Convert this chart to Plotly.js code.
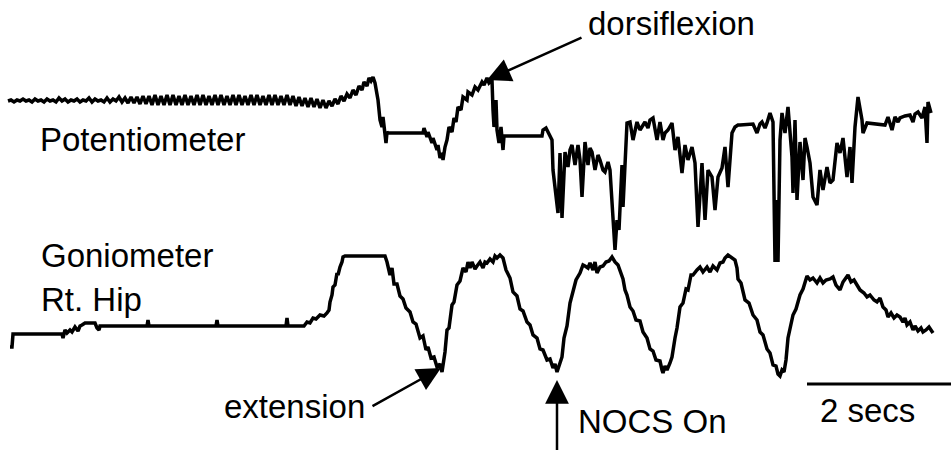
<!DOCTYPE html>
<html><head><meta charset="utf-8">
<script src="https://cdn.plot.ly/plotly-3.0.1.min.js"></script>
<style>html,body{margin:0;padding:0;background:#fff}#chart{width:951px;height:450px}</style>
</head><body><div id="chart"></div>
<script>
// Time axis in samples (72 samples = 1 s), signal values in display units (larger = lower)
const potX = [8,11,14,17,20,23,26,29,32,35,38,41,44,47,50,53,56,59,62,65,68,71,74,77,80,83,86,89,92,95,98,101,104,107,110,113,116,119,122,125,128,131,134,137,140,143,146,
149,152,155,158,161,164,167,170,173,176,179,182,185,188,191,194,197,200,203,206,209,212,215,218,221,224,227,230,233,236,239,242,245,248,251,254,257,260,263,266,269,272,275,278,281,284,287,290,293,296,299,302,305,308,311,314,317,320,323,326,329,
332,335,338,341,344,347,350,353,356,359,362,364,367,369,371,373,375,378,380,382,383,386,387,388,423,
424,427,428,432,433,437,438,440,442,443,445,447,449,452,454,456,458,461,463,467,468,472,475,478,482,484,487,489,492,493,494,496,497,499,501,503,504,542,
543,546,549,552,553,556,558,560,562,565,568,570,572,575,578,580,582,585,588,590,592,595,598,600,603,605,608,610,612,615,617,619,622,623,627,630,633,637,640,643,645,648,650,653,657,660,663,665,668,672,675,678,682,685,688,692,695,698,702,705,708,712,715,718,722,725,728,732,735,738,
740,753,757,760,762,765,767,770,773,775,777,778,780,782,785,788,792,793,795,797,800,803,805,807,810,813,817,820,823,827,830,833,837,840,843,847,850,852,855,858,860,862,863,867,885,888,892,895,898,900,905,910,913,915,918,922,925,927,928,931];
const potY = [101,100,102,100,101,99,101,100,102,99,101,100,102,99,101,100,102,98,101,99,102,100,101,99,102,100,101,98,102,99,101,100,102,98,102,99,101,97,102,98,103,97,103,97,104,96,104,
96,105,95,105,96,105,95,105,95,105,96,105,95,105,96,105,95,105,95,105,96,105,95,105,95,105,96,105,95,105,95,105,96,105,95,105,95,105,96,105,95,105,95,105,96,105,95,105,96,106,97,106,98,107,98,107,99,108,100,108,101,
106,99,104,96,101,94,98,90,95,86,90,82,86,78,81,77,83,100,120,127,117,143,132,133,133,
128,137,132,143,138,150,145,158,153,160,147,140,127,132,118,122,107,110,97,100,92,95,87,90,82,85,78,83,80,110,127,100,130,143,127,150,136,136,
130,128,134,140,170,200,213,153,218,152,167,150,145,165,145,160,197,142,165,148,152,170,155,160,170,172,162,170,207,250,220,230,165,207,123,122,140,122,130,125,122,128,120,118,140,122,140,133,130,123,150,137,173,145,160,147,163,227,163,220,170,177,210,177,168,147,187,133,127,125,
125,124,133,124,122,128,123,113,122,262,200,262,140,113,133,107,157,193,120,200,142,180,138,147,163,197,205,170,190,167,183,180,143,153,138,177,147,183,127,97,110,120,133,123,125,117,130,117,122,118,116,115,122,114,112,118,107,143,102,113];

const gonX = [10,12,13,62,63,65,67,70,72,75,78,80,82,85,95,97,99,100,147,148,149,216,217,218,286,287,288,304,307,310,313,316,320,324,327,329,330,332,333,335,337,338,340,342,343,345,385,
387,390,392,394,397,400,403,406,410,413,416,420,423,426,428,431,434,437,439,440,442,444,445,447,449,452,454,457,460,463,466,468,470,472,475,477,480,483,485,487,490,493,495,497,500,503,
506,510,513,517,520,523,527,530,533,537,540,543,547,550,553,555,557,559,562,564,567,570,573,576,580,583,585,588,590,593,595,597,600,603,606,609,612,615,618,621,623,625,627,630,633,636,640,643,647,650,653,656,660,662,663,665,667,670,672,675,677,680,683,686,688,691,693,697,700,703,707,710,713,717,720,723,725,728,731,735,737,738,741,745,749,753,757,760,763,767,770,773,776,778,780,782,784,786,788,790,793,796,800,803,807,810,813,817,820,823,826,830,833,836,840,843,846,848,851,854,857,860,864,867,870,874,877,880,883,886,888,891,894,897,900,903,905,907,910,913,915,918,921,923,926,929,931,933];
const gonY = [347,347,334,334,338,330,333,330,332,327,331,326,325,323,323,328,330,326,326,320,326,326,320,326,326,318,326,326,322,323,318,319,315,316,313,310,302,295,287,285,273,275,267,262,257,256,256,
262,275,268,284,284,296,299,308,312,322,324,338,336,350,347,358,357,367,364,364,372,358,352,330,328,305,302,285,281,268,272,262,268,262,269,266,262,268,262,263,259,262,256,258,255,258,
270,278,292,296,309,311,322,325,335,338,349,350,360,359,368,364,372,366,357,338,326,303,293,280,273,265,266,268,263,270,262,273,267,266,262,261,257,262,265,273,279,290,295,307,311,320,321,332,338,349,351,360,361,370,373,366,370,363,357,338,328,307,303,289,290,275,275,270,267,272,267,272,266,270,263,262,258,255,257,260,268,279,283,300,303,315,320,332,335,349,353,365,366,374,376,370,372,360,338,330,315,309,295,289,276,280,278,283,278,283,280,279,277,285,290,282,278,275,282,280,285,290,293,297,295,300,302,298,307,310,317,313,318,315,317,322,318,325,322,330,326,331,328,332,330,327,330,333];

const traceNames = ["Potentiometer", "Goniometer Rt. Hip"];
const labelText = ["Potentiometer", "Goniometer", "Rt. Hip", "dorsiflexion", "extension", "NOCS On", "2 secs"];
const scaleBarSecs = 2;
const samplesPerSec = 72;

const lineStyle = {color: '#000', width: 3.5};
const data = [
  {x: potX, y: potY, type: 'scatter', mode: 'lines', line: lineStyle, name: traceNames[0], hoverinfo: 'skip'},
  {x: gonX, y: gonY, type: 'scatter', mode: 'lines', line: lineStyle, name: traceNames[1], hoverinfo: 'skip'}
];

const font = {family: 'Liberation Sans, Arial, sans-serif', size: 33, color: '#000'};
function label(t, x, y, xa) {
  return {text: t, x: x, y: y, xref: 'x', yref: 'y', xanchor: xa, yanchor: 'middle', showarrow: false, font: font};
}
function arrow(x, y, ax, ay, size) {
  return {text: '', x: x, y: y, ax: ax, ay: ay, xref: 'x', yref: 'y', axref: 'x', ayref: 'y',
    showarrow: true, arrowhead: 2, arrowsize: size, arrowwidth: 2.5, arrowcolor: '#000', standoff: 0, startstandoff: 0};
}
const barStart = 807;
const layout = {
  width: 951, height: 450,
  margin: {l: 0, r: 0, t: 0, b: 0},
  paper_bgcolor: '#fff', plot_bgcolor: '#fff',
  showlegend: false,
  xaxis: {range: [0, 951], visible: false, fixedrange: true},
  yaxis: {range: [450, 0], visible: false, fixedrange: true},
  annotations: [
    label(labelText[0], 38, 139, 'left'),
    label(labelText[1], 39, 255, 'left'),
    label(labelText[2], 39, 299, 'left'),
    label(labelText[3], 586, 23, 'left'),
    label(labelText[4], 367, 406, 'right'),
    label(labelText[5], 576, 421, 'left'),
    label(labelText[6], 818, 410, 'left'),
    arrow(487, 80, 583, 37, 1.9),
    arrow(441, 368, 371, 407, 1.9),
    arrow(557, 380, 557, 452, 1.9)
  ],
  shapes: [
    {type: 'line', xref: 'x', yref: 'y', x0: barStart, x1: barStart + scaleBarSecs * samplesPerSec, y0: 384, y1: 384,
     line: {color: '#000', width: 3}}
  ]
};
Plotly.newPlot('chart', data, layout, {displayModeBar: false, staticPlot: true});
</script></body></html>
